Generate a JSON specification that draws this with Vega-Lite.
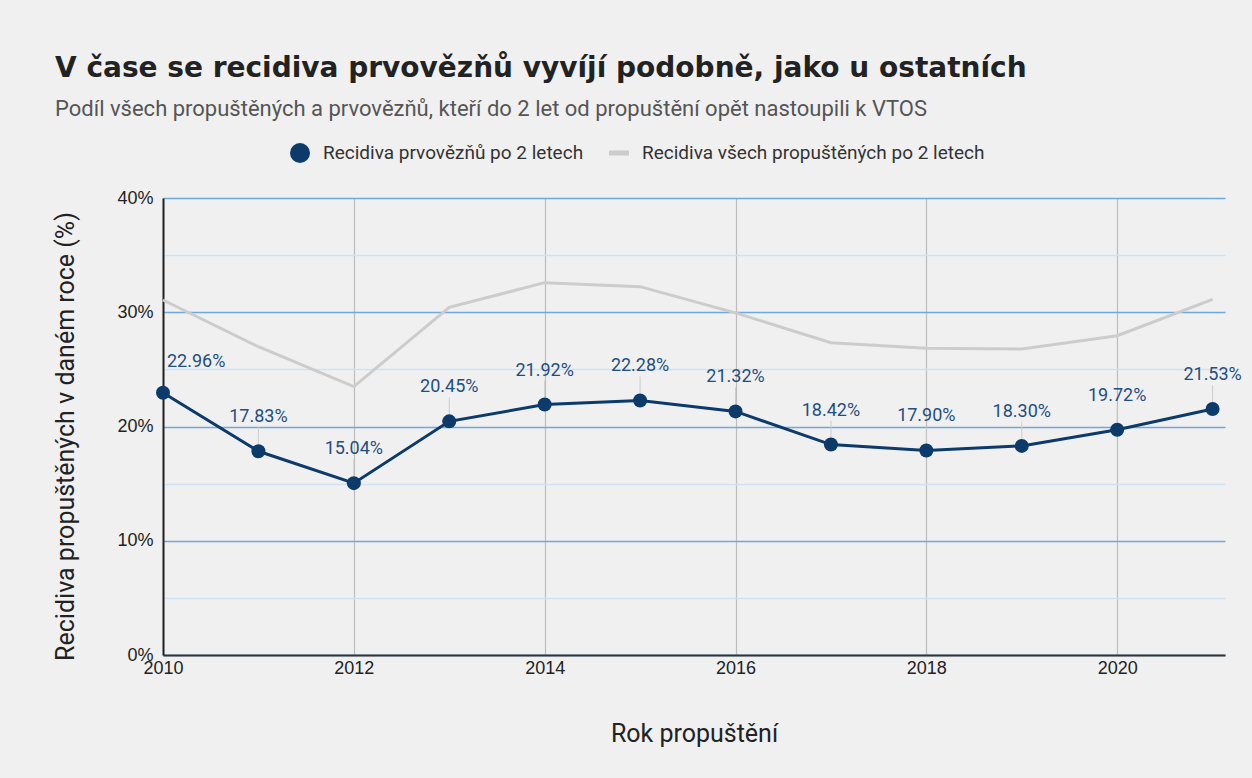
{
  "$schema": "https://vega.github.io/schema/vega-lite/v6.json",
  "width": 1062,
  "height": 457,
  "autosize": {"type": "none"},
  "padding": {"left": 163, "top": 198, "right": 27, "bottom": 123},
  "background": "#f0f0f0",
  "config": {
    "view": {"stroke": null},
    "font": "Roboto",
    "legend": {"padding": 0}
  },
  "title": {
    "text": "V čase se recidiva prvovězňů vyvíjí podobně, jako u ostatních",
    "subtitle": "Podíl všech propuštěných a prvovězňů, kteří do 2 let od propuštění opět nastoupili k VTOS",
    "anchor": "start",
    "frame": "group",
    "dx": -108,
    "offset": 23,
    "font": "DejaVu Sans",
    "fontWeight": "bold",
    "fontSize": 28,
    "color": "#222222",
    "subtitleFont": "Roboto",
    "subtitleFontSize": 22,
    "subtitleColor": "#555555",
    "subtitlePadding": 16
  },
  "datasets": {
    "d": [
      {"year": 2010, "series": "Recidiva prvovězňů po 2 letech", "value": 22.96},
      {"year": 2011, "series": "Recidiva prvovězňů po 2 letech", "value": 17.83},
      {"year": 2012, "series": "Recidiva prvovězňů po 2 letech", "value": 15.04},
      {"year": 2013, "series": "Recidiva prvovězňů po 2 letech", "value": 20.45},
      {"year": 2014, "series": "Recidiva prvovězňů po 2 letech", "value": 21.92},
      {"year": 2015, "series": "Recidiva prvovězňů po 2 letech", "value": 22.28},
      {"year": 2016, "series": "Recidiva prvovězňů po 2 letech", "value": 21.32},
      {"year": 2017, "series": "Recidiva prvovězňů po 2 letech", "value": 18.42},
      {"year": 2018, "series": "Recidiva prvovězňů po 2 letech", "value": 17.90},
      {"year": 2019, "series": "Recidiva prvovězňů po 2 letech", "value": 18.30},
      {"year": 2020, "series": "Recidiva prvovězňů po 2 letech", "value": 19.72},
      {"year": 2021, "series": "Recidiva prvovězňů po 2 letech", "value": 21.53},
      {"year": 2010, "series": "Recidiva všech propuštěných po 2 letech", "value": 31.07},
      {"year": 2011, "series": "Recidiva všech propuštěných po 2 letech", "value": 26.98},
      {"year": 2012, "series": "Recidiva všech propuštěných po 2 letech", "value": 23.49},
      {"year": 2013, "series": "Recidiva všech propuštěných po 2 letech", "value": 30.43},
      {"year": 2014, "series": "Recidiva všech propuštěných po 2 letech", "value": 32.59},
      {"year": 2015, "series": "Recidiva všech propuštěných po 2 letech", "value": 32.24},
      {"year": 2016, "series": "Recidiva všech propuštěných po 2 letech", "value": 29.95},
      {"year": 2017, "series": "Recidiva všech propuštěných po 2 letech", "value": 27.34},
      {"year": 2018, "series": "Recidiva všech propuštěných po 2 letech", "value": 26.85},
      {"year": 2019, "series": "Recidiva všech propuštěných po 2 letech", "value": 26.78},
      {"year": 2020, "series": "Recidiva všech propuštěných po 2 letech", "value": 27.95},
      {"year": 2021, "series": "Recidiva všech propuštěných po 2 letech", "value": 31.13}
    ]
  },
  "data": {"name": "d"},
  "encoding": {
    "x": {
      "field": "year",
      "type": "quantitative",
      "scale": {"domain": [2010, 2021.13], "nice": false, "zero": false},
      "axis": {
        "values": [2010, 2012, 2014, 2016, 2018, 2020],
        "format": "d",
        "title": "Rok propuštění",
        "titleFont": "Roboto",
        "titleFontSize": 25,
        "titleFontWeight": "normal",
        "titleColor": "#222222",
        "titleBaseline": "middle",
        "titleY": 78,
        "grid": true,
        "gridColor": "#bdbdbd",
        "gridWidth": 1.2,
        "ticks": false,
        "domainColor": "#333333",
        "domainWidth": 2,
        "labelFont": "Liberation Sans",
        "labelFontSize": 18,
        "labelColor": "#222222",
        "labelPadding": 4,
        "labelFlush": false
      }
    },
    "y": {
      "field": "value",
      "type": "quantitative",
      "scale": {"domain": [0, 40], "nice": false},
      "axis": {
        "values": [0, 5, 10, 15, 20, 25, 30, 35, 40],
        "labelExpr": "datum.value % 10 == 0 ? datum.value + '%' : ''",
        "title": "Recidiva propuštěných v daném roce (%)",
        "titleFont": "Roboto",
        "titleFontSize": 25,
        "titleFontWeight": "normal",
        "titleColor": "#222222",
        "titleBaseline": "middle",
        "titleX": -98,
        "titleY": 238,
        "grid": true,
        "gridColor": {"condition": {"test": "datum.value % 10 != 0", "value": "#cfe2f3"}, "value": "#6fa8dc"},
        "gridWidth": 1.5,
        "ticks": false,
        "domainColor": "#222222",
        "domainWidth": 2,
        "labelFont": "Liberation Sans",
        "labelFontSize": 18,
        "labelColor": "#222222",
        "labelPadding": 10
      }
    }
  },
  "layer": [
    {
      "mark": {"type": "line", "strokeWidth": 3},
      "encoding": {
        "color": {
          "field": "series",
          "type": "nominal",
          "scale": {
            "domain": ["Recidiva prvovězňů po 2 letech", "Recidiva všech propuštěných po 2 letech"],
            "range": ["#0b3a6b", "#cccccc"]
          },
          "legend": {
            "title": null,
            "orient": "none",
            "direction": "horizontal",
            "legendX": 127,
            "legendY": -55,
            "symbolSize": 400,
            "labelFont": "Roboto",
            "labelFontSize": 19,
            "labelLimit": 0,
            "labelColor": "#333333",
            "labelOffset": 13,
            "columnPadding": 25,
            "encode": {
              "symbols": {
                "update": {
                  "shape": {"signal": "datum.value === 'Recidiva prvovězňů po 2 letech' ? 'circle' : 'M-1,-0.25H1V0.25H-1Z'"},
                  "fill": {"signal": "scale('color', datum.value)"},
                  "fillOpacity": {"value": 1},
                  "strokeWidth": {"value": 0}
                }
              }
            }
          }
        }
      }
    },
    {
      "transform": [{"filter": "datum.series === 'Recidiva prvovězňů po 2 letech' && datum.year != 2010"}],
      "mark": {"type": "rule", "color": "#cccccc", "strokeWidth": 1, "yOffset": -7, "y2Offset": -24},
      "encoding": {"y2": {"field": "value"}}
    },
    {
      "transform": [{"filter": "datum.series === 'Recidiva prvovězňů po 2 letech'"}],
      "mark": {"type": "point", "shape": "circle", "filled": true, "size": 196, "color": "#0b3a6b", "opacity": 1}
    },
    {
      "transform": [
        {"filter": "datum.series === 'Recidiva prvovězňů po 2 letech'"},
        {"calculate": "format(datum.value, '.2f') + '%'", "as": "label"}
      ],
      "mark": {
        "type": "text",
        "font": "Roboto",
        "fontSize": 18,
        "color": "#1f4e80",
        "baseline": "middle",
        "align": {"expr": "datum.year == 2010 ? 'left' : 'center'"},
        "dx": {"expr": "datum.year == 2010 ? 4 : 0"},
        "dy": {"expr": "datum.year == 2010 ? -31 : -34"}
      },
      "encoding": {"text": {"field": "label"}}
    }
  ]
}
